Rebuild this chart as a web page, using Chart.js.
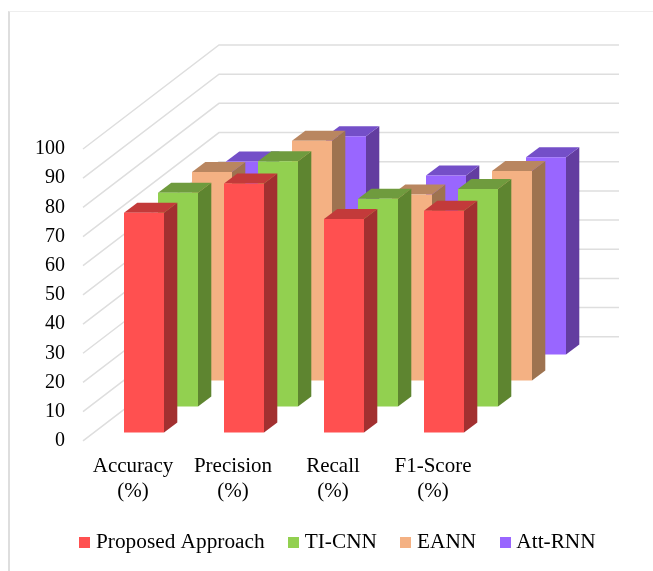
<!DOCTYPE html>
<html>
<head>
<meta charset="utf-8">
<title>Model comparison</title>
<script src="https://cdn.jsdelivr.net/npm/chart.js@4/dist/chart.umd.min.js"></script>
<style>
html, body { margin: 0; padding: 0; background: #fff; }
#wrap { position: relative; width: 653px; height: 571px; overflow: hidden; }
#frame { position: absolute; left: 8px; top: 11px; right: -4px; bottom: -4px; border-left: 2px solid #dedede; border-top: 1px solid #eeeeee; }
canvas { position: absolute; left: 0; top: 0; }
</style>
</head>
<body>
<div id="wrap">
<div id="frame"></div>
<canvas id="chart" width="653" height="571"></canvas>
</div>
<script>
var categories = [['Accuracy', '(%)'], ['Precision', '(%)'], ['Recall', '(%)'], ['F1-Score', '(%)']];
var proposedApproach = [75.3, 85.4, 73.2, 76.0];
var tiCnn = [73.3, 84.1, 71.2, 74.6];
var eann = [71.5, 82.2, 63.8, 71.8];
var attRnn = [66.2, 74.8, 61.4, 67.6];

var frontColors = ['#ff5050', '#92d050', '#f4b183', '#9966ff'];
var sideColors = ['#a23030', '#5e8530', '#9e7350', '#633da0'];
var topColors = ['#c33a3a', '#6f9b3e', '#b98660', '#744fc8'];

var serif = 'Liberation Serif';

// fake 3d: the library places the bars, this shifts each series back and adds the extra faces
var firstDx = 11, firstDy = -8.2, rowDx = 34, rowDy = -26;
var barDx = 13.3, barDy = -10;
var wallDx = 136, wallDy = -104;

function poly(ctx, color, pts) {
    ctx.fillStyle = color;
    ctx.beginPath();
    ctx.moveTo(pts[0][0], pts[0][1]);
    for (var i = 1; i < pts.length; i++) ctx.lineTo(pts[i][0], pts[i][1]);
    ctx.closePath();
    ctx.fill();
}

var depthPlugin = {
    id: 'depth',
    beforeDatasetsDraw: function (chart) {
        var ctx = chart.ctx, xs = chart.scales.x, ys = chart.scales.y;
        ctx.save();
        ctx.strokeStyle = '#dedede';
        ctx.lineWidth = 1.5;
        ys.ticks.forEach(function (t) {
            var py = ys.getPixelForValue(t.value);
            ctx.beginPath();
            ctx.moveTo(xs.left, py);
            ctx.lineTo(xs.left + wallDx, py + wallDy);
            ctx.lineTo(xs.right + wallDx, py + wallDy);
            ctx.stroke();
        });
        ctx.restore();
    },
    beforeDatasetDraw: function (chart, args) {
        var ctx = chart.ctx, i = args.index;
        ctx.save();
        ctx.translate(firstDx + rowDx * i, firstDy + rowDy * i);
        args.meta.data.forEach(function (bar) {
            var l = bar.x - bar.width / 2, r = bar.x + bar.width / 2;
            poly(ctx, sideColors[i], [[r, bar.y], [r + barDx, bar.y + barDy], [r + barDx, bar.base + barDy], [r, bar.base]]);
            poly(ctx, topColors[i], [[l, bar.y], [l + barDx, bar.y + barDy], [r + barDx, bar.y + barDy], [r, bar.y]]);
        });
    },
    afterDatasetDraw: function (chart) {
        chart.ctx.restore();
    }
};

function swatch(color) {
    var c = document.createElement('canvas');
    c.width = 11;
    c.height = 11;
    var g = c.getContext('2d');
    g.fillStyle = color;
    g.fillRect(0, 0, 11, 11);
    return c;
}

function makeSeries(label, data, i) {
    return {
        label: label,
        data: data,
        backgroundColor: frontColors[i],
        grouped: false,
        barPercentage: 0.4,
        categoryPercentage: 1,
        clip: false
    };
}

new Chart(document.getElementById('chart').getContext('2d'), {
    type: 'bar',
    data: {
        labels: categories,
        datasets: [
            makeSeries('Proposed Approach', proposedApproach, 0),
            makeSeries('TI-CNN', tiCnn, 1),
            makeSeries('EANN', eann, 2),
            makeSeries('Att-RNN', attRnn, 3)
        ]
    },
    plugins: [depthPlugin],
    options: {
        responsive: false,
        animation: false,
        events: [],
        layout: { padding: { left: 27, right: 0, top: 149, bottom: 8 } },
        scales: {
            x: {
                afterFit: function (s) { s.height -= 14; },
                grid: { display: false, drawTicks: false },
                border: { display: false },
                ticks: {
                    color: '#000',
                    padding: 13,
                    maxRotation: 0,
                    autoSkip: false,
                    font: { family: serif, size: 21 }
                }
            },
            y: {
                min: 0,
                max: 100,
                afterFit: function (s) { s.width = 56; },
                grid: { display: false, drawTicks: false },
                border: { display: false },
                ticks: {
                    stepSize: 10,
                    color: '#000',
                    padding: 18,
                    font: { family: serif, size: 20 }
                }
            },
            room: {
                position: 'right',
                afterFit: function (s) { s.width = 170; },
                grid: { display: false, drawTicks: false },
                border: { display: false },
                ticks: { display: false }
            }
        },
        plugins: {
            tooltip: { enabled: false },
            legend: {
                position: 'bottom',
                labels: {
                    usePointStyle: true,
                    pointStyleWidth: 1,
                    padding: 28.5,
                    color: '#000',
                    font: { family: serif, size: 21.3 },
                    generateLabels: function (chart) {
                        return Chart.defaults.plugins.legend.labels.generateLabels(chart).map(function (item, i) {
                            item.pointStyle = swatch(frontColors[i]);
                            return item;
                        });
                    }
                }
            }
        }
    }
});
</script>
</body>
</html>
